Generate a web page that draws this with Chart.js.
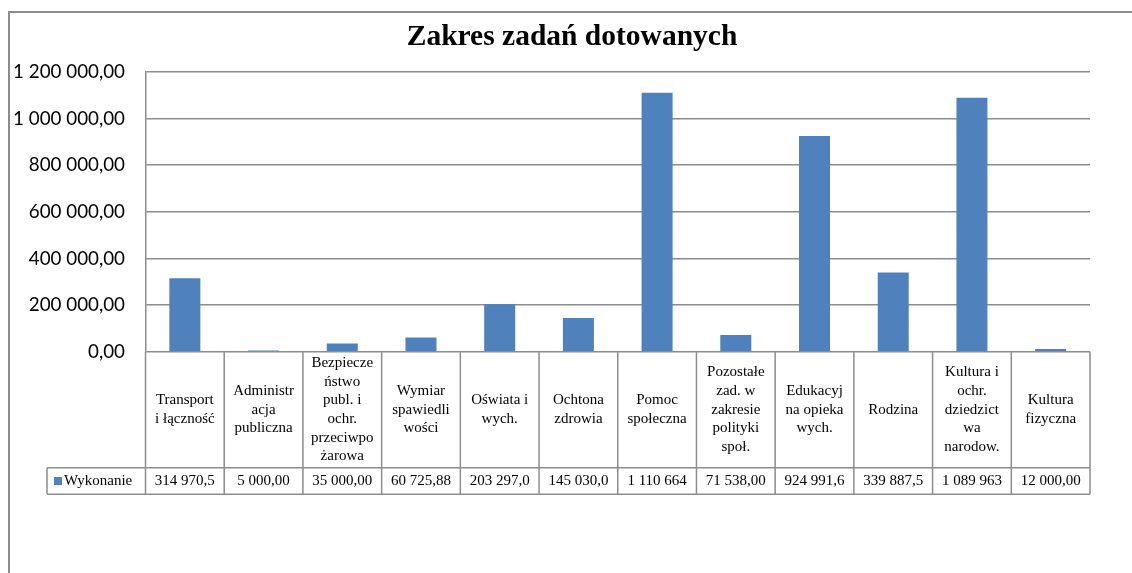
<!DOCTYPE html>
<html><head><meta charset="utf-8">
<script src="https://cdn.jsdelivr.net/npm/chart.js@4/dist/chart.umd.min.js"></script>
<style>html,body{margin:0;padding:0;background:#fff}#wrap{width:1132px;height:573px;position:relative}</style>
</head><body><div id="wrap"><canvas id="c" width="1132" height="573"></canvas></div>
<script>
const chartTitle = 'Zakres zadań dotowanych';
const seriesName = 'Wykonanie';
const categories = [
  ['Transport','i łączność'],
  ['Administr','acja','publiczna'],
  ['Bezpiecze','ństwo','publ. i','ochr.','przeciwpo','żarowa'],
  ['Wymiar','spawiedli','wości'],
  ['Oświata i','wych.'],
  ['Ochtona','zdrowia'],
  ['Pomoc','społeczna'],
  ['Pozostałe','zad. w','zakresie','polityki','społ.'],
  ['Edukacyj','na opieka','wych.'],
  ['Rodzina'],
  ['Kultura i','ochr.','dziedzict','wa','narodow.'],
  ['Kultura','fizyczna']
];
const values = [314970.5, 5000, 35000, 60725.88, 203297, 145030, 1110664, 71538, 924991.6, 339887.5, 1089963, 12000];
const tableValueLabels = ['314 970,5','5 000,00','35 000,00','60 725,88','203 297,0','145 030,0','1 110 664','71 538,00','924 991,6','339 887,5','1 089 963','12 000,00'];
const yTickLabels = ['0,00','200 000,00','400 000,00','600 000,00','800 000,00','1 000 000,00','1 200 000,00'];

const BAR = '#4f81bd';
const LINE = '#8c8c8c';
const SERIF = '"Liberation Serif", "Times New Roman", serif';

const decor = {
  id: 'decor',
  beforeDraw(chart) {
    const ctx = chart.ctx;
    ctx.save();
    ctx.strokeStyle = LINE; ctx.lineWidth = 2;
    ctx.beginPath(); ctx.moveTo(9, 573); ctx.lineTo(9, 12); ctx.lineTo(1132, 12); ctx.stroke();
    ctx.fillStyle = '#000';
    ctx.font = 'bold 29.5px ' + SERIF;
    ctx.textAlign = 'center'; ctx.textBaseline = 'middle';
    ctx.fillText(chartTitle, 572, 37);
    ctx.restore();
  },
  afterDraw(chart) {
    const ctx = chart.ctx;
    const xs = chart.scales.x;
    const {left, right, bottom} = chart.chartArea;
    const n = categories.length;
    const cw = (right - left) / n;
    const headTop = bottom, rowTop = bottom + 116, rowBot = rowTop + 26.6;
    const legLeft = 47;
    ctx.save();
    ctx.strokeStyle = LINE; ctx.lineWidth = 1.5;
    ctx.beginPath();
    for (let i = 0; i <= n; i++) {
      const x = i < n ? xs.getPixelForValue(i) - cw / 2 : xs.getPixelForValue(n - 1) + cw / 2;
      ctx.moveTo(x, headTop); ctx.lineTo(x, rowBot);
    }
    ctx.moveTo(legLeft, rowTop); ctx.lineTo(right, rowTop);
    ctx.moveTo(legLeft, rowBot); ctx.lineTo(right, rowBot);
    ctx.moveTo(legLeft, rowTop); ctx.lineTo(legLeft, rowBot);
    ctx.stroke();
    ctx.fillStyle = '#000';
    ctx.font = '15px ' + SERIF;
    ctx.textAlign = 'center'; ctx.textBaseline = 'middle';
    const lh = 18.7;
    const hc = (headTop + rowTop) / 2, vc = (rowTop + rowBot) / 2;
    categories.forEach((lines, i) => {
      const cx = xs.getPixelForValue(i);
      const y0 = hc - (lines.length - 1) * lh / 2;
      lines.forEach((t, k) => ctx.fillText(t, cx, y0 + k * lh));
      ctx.fillText(tableValueLabels[i], cx, vc);
    });
    ctx.fillStyle = BAR;
    ctx.fillRect(54, vc - 4, 8, 8);
    ctx.fillStyle = '#000';
    ctx.textAlign = 'left';
    ctx.fillText(seriesName, 64, vc);
    ctx.restore();
  }
};

new Chart(document.getElementById('c'), {
  type: 'bar',
  data: {
    labels: categories,
    datasets: [{ label: seriesName, data: values, backgroundColor: BAR, categoryPercentage: 1, barPercentage: 0.394 }]
  },
  options: {
    responsive: false,
    animation: false,
    layout: { padding: { top: 72, bottom: 221.3, left: 0, right: 42 } },
    plugins: { legend: { display: false }, title: { display: false }, tooltip: { enabled: false } },
    scales: {
      x: { display: true, ticks: { display: false }, grid: { display: false, drawTicks: false, tickLength: 0 }, border: { display: false } },
      y: {
        min: 0, max: 1200000,
        afterFit(s) { s.width = 145.5; },
        ticks: { stepSize: 200000, padding: 20.5, color: '#000', font: { family: 'Lato, "Open Sans", sans-serif', size: 18.8 },
          callback: (v) => yTickLabels[Math.round(v / 200000)] },
        grid: { color: LINE, lineWidth: 1.5, drawTicks: false, tickLength: 0 },
        border: { display: true, color: LINE, width: 1.5 }
      }
    }
  },
  plugins: [decor]
});
</script></body></html>
